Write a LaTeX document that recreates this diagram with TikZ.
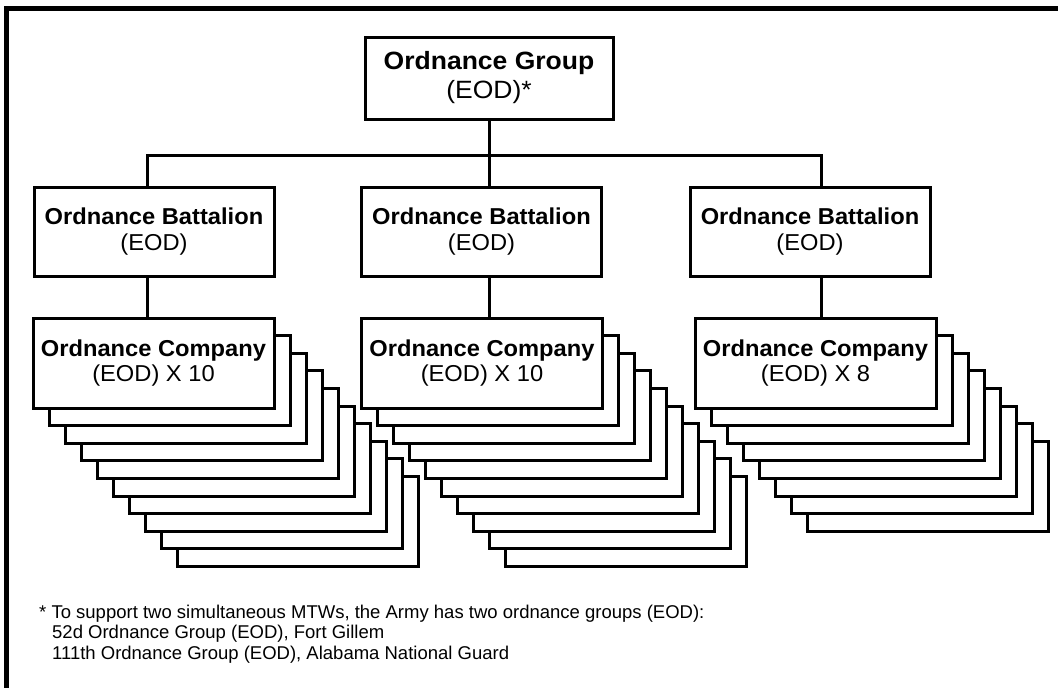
\documentclass[tikz,border=0pt]{standalone}
\usepackage{fontspec}
\setmainfont[FakeStretch=1.03]{Liberation Sans}
\newfontfamily\grpfont[FakeStretch=1.06]{Liberation Sans}
\newfontfamily\notefont{Liberation Sans}
\begin{document}
\begin{tikzpicture}[x=1pt,y=-1pt,
  box/.style={draw,line width=3pt,fill=white,inner sep=0pt,align=center,
    font=\fontsize{23}{25.5}\selectfont},
  conn/.style={line width=3pt},
  shadow/.style={draw,line width=3pt,fill=white},
  note/.style={anchor=base west,inner sep=0pt,font=\notefont\fontsize{18.5}{21}\selectfont}]
\useasboundingbox (0,0) rectangle (1058,688);
% frame
\draw[line width=5pt,line join=miter] (6,700) -- (6,8.5) -- (1070,8.5);

% company stacks (back copies)
\foreach \cx/\n in {153.5/9, 482/9, 815.5/7}{
  \foreach \k in {\n,...,1}{
    \draw[shadow] (\cx-120.5+16*\k, 318+17.6*\k) rectangle (\cx+120.5+16*\k, 408+17.6*\k);
  }
}

% nodes
\node[box,minimum width=248pt,minimum height=82pt,font=\grpfont\fontsize{25}{29}\selectfont] (grp) at (489,78) {\bfseries Ordnance Group\\(EOD)*};
\node[box,minimum width=240pt,minimum height=89pt] (bat1) at (154,231.5) {\bfseries Ordnance Battalion\\(EOD)};
\node[box,minimum width=240pt,minimum height=89pt] (bat2) at (481.5,231.5) {\bfseries Ordnance Battalion\\(EOD)};
\node[box,minimum width=240pt,minimum height=89pt] (bat3) at (810,231.5) {\bfseries Ordnance Battalion\\(EOD)};
\node[box,minimum width=241pt,minimum height=90pt] (co1) at (153.5,363) {\bfseries Ordnance Company\\(EOD) X 10};
\node[box,minimum width=241pt,minimum height=90pt] (co2) at (482,363) {\bfseries Ordnance Company\\(EOD) X 10};
\node[box,minimum width=241pt,minimum height=90pt] (co3) at (815.5,363) {\bfseries Ordnance Company\\(EOD) X 8};

% connectors
\coordinate (busL) at (147,155.5);
\coordinate (busR) at (821,155.5);
\draw[conn] (busL |- bat1.north) -- (busL) -- (busR) -- (busR |- bat3.north);
\draw[conn] (grp.south) -- (grp.south |- bat2.north);
\draw[conn] (busL |- bat1.south) -- (busL |- co1.north);
\draw[conn] (grp.south |- bat2.south) -- (grp.south |- co2.north);
\draw[conn] (busR |- bat3.south) -- (busR |- co3.north);

% footnote
\node[note] (n1) at (39,618) {* To support two simultaneous MTWs, the Army has two ordnance groups (EOD):};
\node[note] (n2) at (52,638.5) {52d Ordnance Group (EOD), Fort Gillem};
\node[note] (n3) at (52,659) {111th Ordnance Group (EOD), Alabama National Guard};
\end{tikzpicture}
\end{document}
